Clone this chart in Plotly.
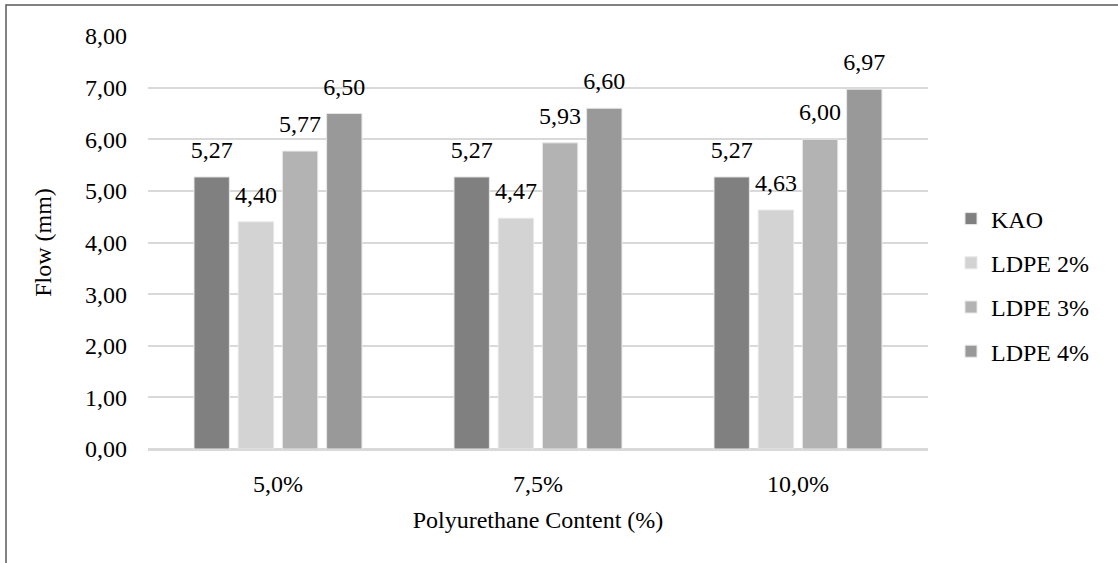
import plotly.graph_objects as go

categories = ["5,0%", "7,5%", "10,0%"]
series_names = ["KAO", "LDPE 2%", "LDPE 3%", "LDPE 4%"]
kao = [5.27, 5.27, 5.27]
ldpe2 = [4.40, 4.47, 4.63]
ldpe3 = [5.77, 5.93, 6.00]
ldpe4 = [6.50, 6.60, 6.97]
colors = ["#808080", "#d3d3d3", "#b3b3b3", "#999999"]

font = "Liberation Serif, Times New Roman, serif"
FS = 24
LABEL_GAP = 0.21  # spacing (in axis units) between bar top and its label

fig = go.Figure()
for i, (name, vals, col) in enumerate(zip(series_names, [kao, ldpe2, ldpe3, ldpe4], colors)):
    fig.add_trace(go.Bar(
        x=categories, y=vals, name=name, legendgroup=name, offsetgroup=str(i),
        marker=dict(color=col, line=dict(color="#e8e8e8", width=1)),
        hovertemplate="%{x}: %{y:.2f}<extra>" + name + "</extra>",
    ))
    # transparent spacer carrying the value label just above the bar
    fig.add_trace(go.Bar(
        x=categories, y=[LABEL_GAP] * len(vals), base=vals,
        offsetgroup=str(i), legendgroup=name, showlegend=False,
        marker=dict(color="rgba(0,0,0,0)", line=dict(width=0)),
        customdata=vals, texttemplate="%{customdata:.2f}",
        textposition="outside", constraintext="none",
        textfont=dict(family=font, size=FS, color="#000000"),
        cliponaxis=False, hoverinfo="skip",
    ))

L, R, T, B = 148, 190, 36, 114
W, H = 1118, 563
pw, ph = W - L - R, H - T - B

def px(x):
    return (x - L) / pw

def py(y):
    return (H - B - y) / ph

fig.update_layout(
    width=W, height=H,
    margin=dict(l=L, r=R, t=T, b=B, autoexpand=False),
    paper_bgcolor="white", plot_bgcolor="white",
    separators=",.",
    barmode="group", bargap=0.32, bargroupgap=0.2,
    font=dict(family=font, size=FS, color="#000000"),
    legend=dict(
        x=px(951), y=py(285), xanchor="left", yanchor="middle",
        font=dict(family=font, size=FS, color="#000000"),
        tracegroupgap=10, itemwidth=30,
    ),
    xaxis=dict(
        title=dict(text="Polyurethane Content (%)", font=dict(size=FS), standoff=16),
        showline=True, linecolor="#d9d9d9", linewidth=1.5,
        ticks="", tickfont=dict(size=FS), ticklabelstandoff=12,
    ),
    yaxis=dict(
        title=dict(text="Flow (mm)", font=dict(size=FS), standoff=26),
        range=[0, 8], dtick=1, tickformat=".2f",
        showgrid=True, gridcolor="#d9d9d9", gridwidth=1.5,
        zeroline=True, zerolinecolor="#d9d9d9", zerolinewidth=1.5,
        ticks="", tickfont=dict(size=FS), ticklabelstandoff=20,
    ),
    shapes=[dict(
        type="rect", xref="paper", yref="paper",
        x0=px(6), x1=px(1125), y0=py(570), y1=py(5),
        line=dict(color="#595959", width=1.5), fillcolor="rgba(0,0,0,0)",
        layer="below",
    )],
)

fig.write_html("out.html", config={"displayModeBar": False},
               post_script="document.body.style.margin='0';")
